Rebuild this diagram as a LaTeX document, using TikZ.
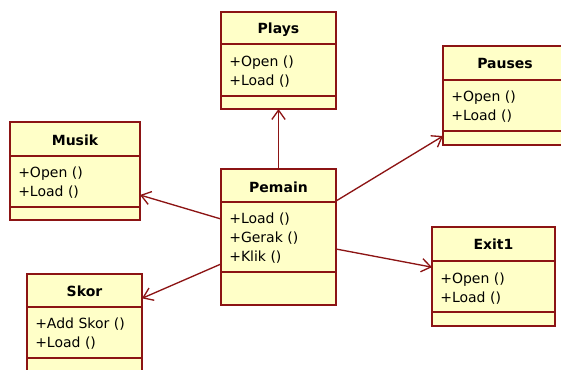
\documentclass[tikz,border=0pt]{standalone}
\usepackage{fontspec}
\setmainfont{DejaVu Sans}
\usetikzlibrary{arrows.meta,positioning,calc}
\definecolor{umlred}{RGB}{140,20,20}
\definecolor{umlfill}{RGB}{255,255,200}

\begin{document}
\begin{tikzpicture}[
    x=0.75pt, y=-0.75pt,
    classbox/.style={rectangle, draw=umlred, fill=umlfill, line width=1.1pt, inner sep=0pt, outer sep=0pt},
    sepline/.style={draw=umlred, line width=1.1pt},
    classname/.style={anchor=base, font=\fontsize{10.5}{12}\selectfont\bfseries, inner sep=0pt},
    oplist/.style={anchor=base west, align=left, font=\fontsize{10.5}{14.25}\selectfont, inner sep=0pt},
    arrow/.style={draw=umlred, line width=1pt, -{Straight Barb[length=7pt,width=10pt]}}
]
    \useasboundingbox (0,0) rectangle (561,369);

    % Plays
    \node[classbox, minimum width=115*0.75pt, minimum height=97*0.75pt] (plays) at (278.5,60.5) {};
    \node[classname] (playsname) at (278.5,33) {Plays};
    \draw[sepline] (plays.west |- 0,44) -- (plays.east |- 0,44);
    \node[oplist] (playsops) at (229,85) {+Open ()\\+Load ()};
    \draw[sepline] (plays.west |- 0,96) -- (plays.east |- 0,96);

    % Musik
    \node[classbox, minimum width=130*0.75pt, minimum height=98*0.75pt] (musik) at (75,171) {};
    \node[classname] (musikname) at (75,145) {Musik};
    \draw[sepline] (musik.west |- 0,156) -- (musik.east |- 0,156);
    \node[oplist] (musikops) at (18,196) {+Open ()\\+Load ()};
    \draw[sepline] (musik.west |- 0,207) -- (musik.east |- 0,207);

    % Pemain
    \node[classbox, minimum width=115*0.75pt, minimum height=136*0.75pt] (pemain) at (278.5,237) {};
    \node[classname] (pemainname) at (278.5,192) {Pemain};
    \draw[sepline] (pemain.west |- 0,202) -- (pemain.east |- 0,202);
    \node[oplist] (pemainops) at (229,261) {+Load ()\\+Gerak ()\\+Klik ()};
    \draw[sepline] (pemain.west |- 0,272) -- (pemain.east |- 0,272);

    % Pauses
    \node[classbox, minimum width=124*0.75pt, minimum height=99*0.75pt] (pauses) at (505,95.5) {};
    \node[classname] (pausesname) at (505,68) {Pauses};
    \draw[sepline] (pauses.west |- 0,80) -- (pauses.east |- 0,80);
    \node[oplist] (pausesops) at (451,120) {+Open ()\\+Load ()};
    \draw[sepline] (pauses.west |- 0,131) -- (pauses.east |- 0,131);

    % Exit1
    \node[classbox, minimum width=123*0.75pt, minimum height=99*0.75pt] (exit) at (493.5,276.5) {};
    \node[classname] (exitname) at (493.5,249) {Exit1};
    \draw[sepline] (exit.west |- 0,261) -- (exit.east |- 0,261);
    \node[oplist] (exitops) at (440,302) {+Open ()\\+Load ()};
    \draw[sepline] (exit.west |- 0,312) -- (exit.east |- 0,312);

    % Skor
    \node[classbox, minimum width=115*0.75pt, minimum height=102*0.75pt] (skor) at (84.5,325) {};
    \node[classname] (skorname) at (84.5,296) {Skor};
    \draw[sepline] (skor.west |- 0,307) -- (skor.east |- 0,307);
    \node[oplist] (skorops) at (35,347) {+Add Skor ()\\+Load ()};
    \draw[sepline] (skor.west |- 0,358) -- (skor.east |- 0,358);

    % associations
    \draw[arrow] (pemain.north) -- (plays.south);
    \draw[arrow] ([yshift=13.5pt]pemain.west) -- ([yshift=-18pt]musik.east);
    \draw[arrow] ([yshift=-20.25pt]pemain.west) -- ([yshift=20pt]skor.east);
    \draw[arrow] ([yshift=27pt]pemain.east) -- ([yshift=-30.4pt]pauses.west);
    \draw[arrow] ([yshift=-9pt]pemain.east) -- ([yshift=7pt]exit.west);
\end{tikzpicture}
\end{document}
